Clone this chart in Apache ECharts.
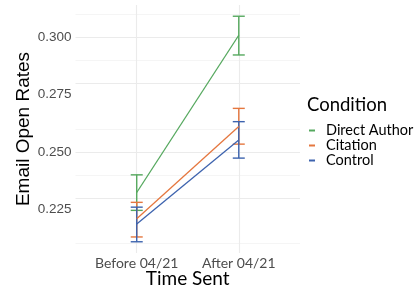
<!DOCTYPE html>
<html>
<head>
<meta charset="utf-8">
<script src="https://cdn.jsdelivr.net/npm/echarts@6/dist/echarts.min.js"></script>
<style>
	html, body { margin: 0; padding: 0; background: #fff; }
	#chart { width: 417px; height: 286px; }
</style>
</head>
<body>
<div id="chart"></div>
<script>
// x positions 1 and 2 stand for the two time periods
const timeLabels = ["Before 04/21", "After 04/21"];
const conditions = ["Direct Author", "Citation", "Control"];
const colors = ["#55a85e", "#e5773f", "#3d63ae"];

// mean, lower, upper for each condition
const directMean = [0.2323, 0.3009];
const directLow = [0.2245, 0.2923];
const directHigh = [0.2400, 0.3092];
const citationMean = [0.2208, 0.2611];
const citationLow = [0.2129, 0.2534];
const citationHigh = [0.2280, 0.2690];
const controlMean = [0.2186, 0.2552];
const controlLow = [0.2108, 0.2473];
const controlHigh = [0.2259, 0.2632];

const yTicks = [0.225, 0.250, 0.275, 0.300];
const yMinor = [0.2125, 0.2375, 0.2625, 0.2875, 0.3125];

const means = [directMean, citationMean, controlMean];
const lows = [directLow, citationLow, controlLow];
const highs = [directHigh, citationHigh, controlHigh];

let chart = echarts.init(document.getElementById("chart"));

let series = [];

// gridlines, kept under everything else
series.push({
	type: "line",
	data: [],
	silent: true,
	z: 0,
	markLine: {
		silent: true,
		symbol: "none",
		label: { show: false },
		animation: false,
		z: 0,
		data: yMinor.map(v => ({ yAxis: v, lineStyle: { color: "#f2f2f2", width: 0.8, type: "solid" } }))
			.concat(yTicks.map(v => ({ yAxis: v, lineStyle: { color: "#ebebeb", width: 1.1, type: "solid" } })))
			.concat([1, 2].map(v => ({ xAxis: v, lineStyle: { color: "#ebebeb", width: 1.1, type: "solid" } })))
	}
});

conditions.forEach((name, i) => {
	series.push({
		name: name,
		type: "line",
		data: means[i].map((v, j) => [j + 1, v]),
		showSymbol: false,
		symbol: "none",
		lineStyle: { color: colors[i], width: 1.3 },
		itemStyle: { color: colors[i] },
		z: 4
	});
	series.push({
		name: name,
		type: "custom",
		data: means[i].map((v, j) => [j + 1, lows[i][j], highs[i][j]]),
		renderItem: function (params, api) {
			let x = api.value(0);
			let lo = api.coord([x, api.value(1)]);
			let hi = api.coord([x, api.value(2)]);
			let w = 6;
			let style = { stroke: colors[i], lineWidth: 1.4, fill: null };
			return {
				type: "group",
				children: [
					{ type: "line", shape: { x1: lo[0], y1: lo[1], x2: hi[0], y2: hi[1] }, style: style },
					{ type: "line", shape: { x1: lo[0] - w, y1: lo[1], x2: lo[0] + w, y2: lo[1] }, style: style },
					{ type: "line", shape: { x1: hi[0] - w, y1: hi[1], x2: hi[0] + w, y2: hi[1] }, style: style }
				]
			};
		},
		z: 3
	});
});

chart.setOption({
	animation: false,
	title: {
		text: "Condition",
		left: 307,
		top: 96,
		textStyle: { fontFamily: "Lato", fontSize: 18.5, fontWeight: "normal", color: "#000" },
		padding: 0
	},
	legend: {
		data: conditions,
		orient: "vertical",
		left: 309,
		top: 123,
		itemWidth: 6,
		itemHeight: 2,
		itemGap: 0,
		icon: "rect",
		padding: 0,
		textStyle: { fontFamily: "Lato", fontSize: 14.5, color: "#000", lineHeight: 13, padding: [0, 0, 0, 6] }
	},
	grid: { left: 75.5, right: 117, top: 5, bottom: 33, outerBoundsMode: "none" },
	xAxis: {
		type: "value",
		min: 0.4,
		max: 2.6,
		name: "Time Sent",
		nameLocation: "middle",
		nameGap: 16,
		nameMoveOverlap: false,
		nameTextStyle: { fontFamily: "Lato", fontSize: 19, color: "#000" },
		axisLine: { show: false },
		axisTick: { show: false },
		splitLine: { show: false },
		axisLabel: {
			customValues: [1, 2],
			formatter: v => timeLabels[Math.round(v) - 1],
			margin: 3,
			fontFamily: "Lato",
			fontSize: 14,
			color: "#4d4d4d"
		}
	},
	yAxis: {
		type: "value",
		min: 0.2059,
		max: 0.3141,
		name: "Email Open Rates",
		nameLocation: "middle",
		nameGap: 42,
		nameMoveOverlap: false,
		nameTextStyle: { fontFamily: "Liberation Sans", fontSize: 19, color: "#000" },
		axisLine: { show: false },
		axisTick: { show: false },
		splitLine: { show: false },
		axisLabel: {
			customValues: yTicks,
			formatter: v => v.toFixed(3),
			margin: 4,
			fontFamily: "Liberation Sans",
			fontSize: 13.5,
			color: "#4d4d4d"
		}
	},
	series: series
});
</script>
</body>
</html>
